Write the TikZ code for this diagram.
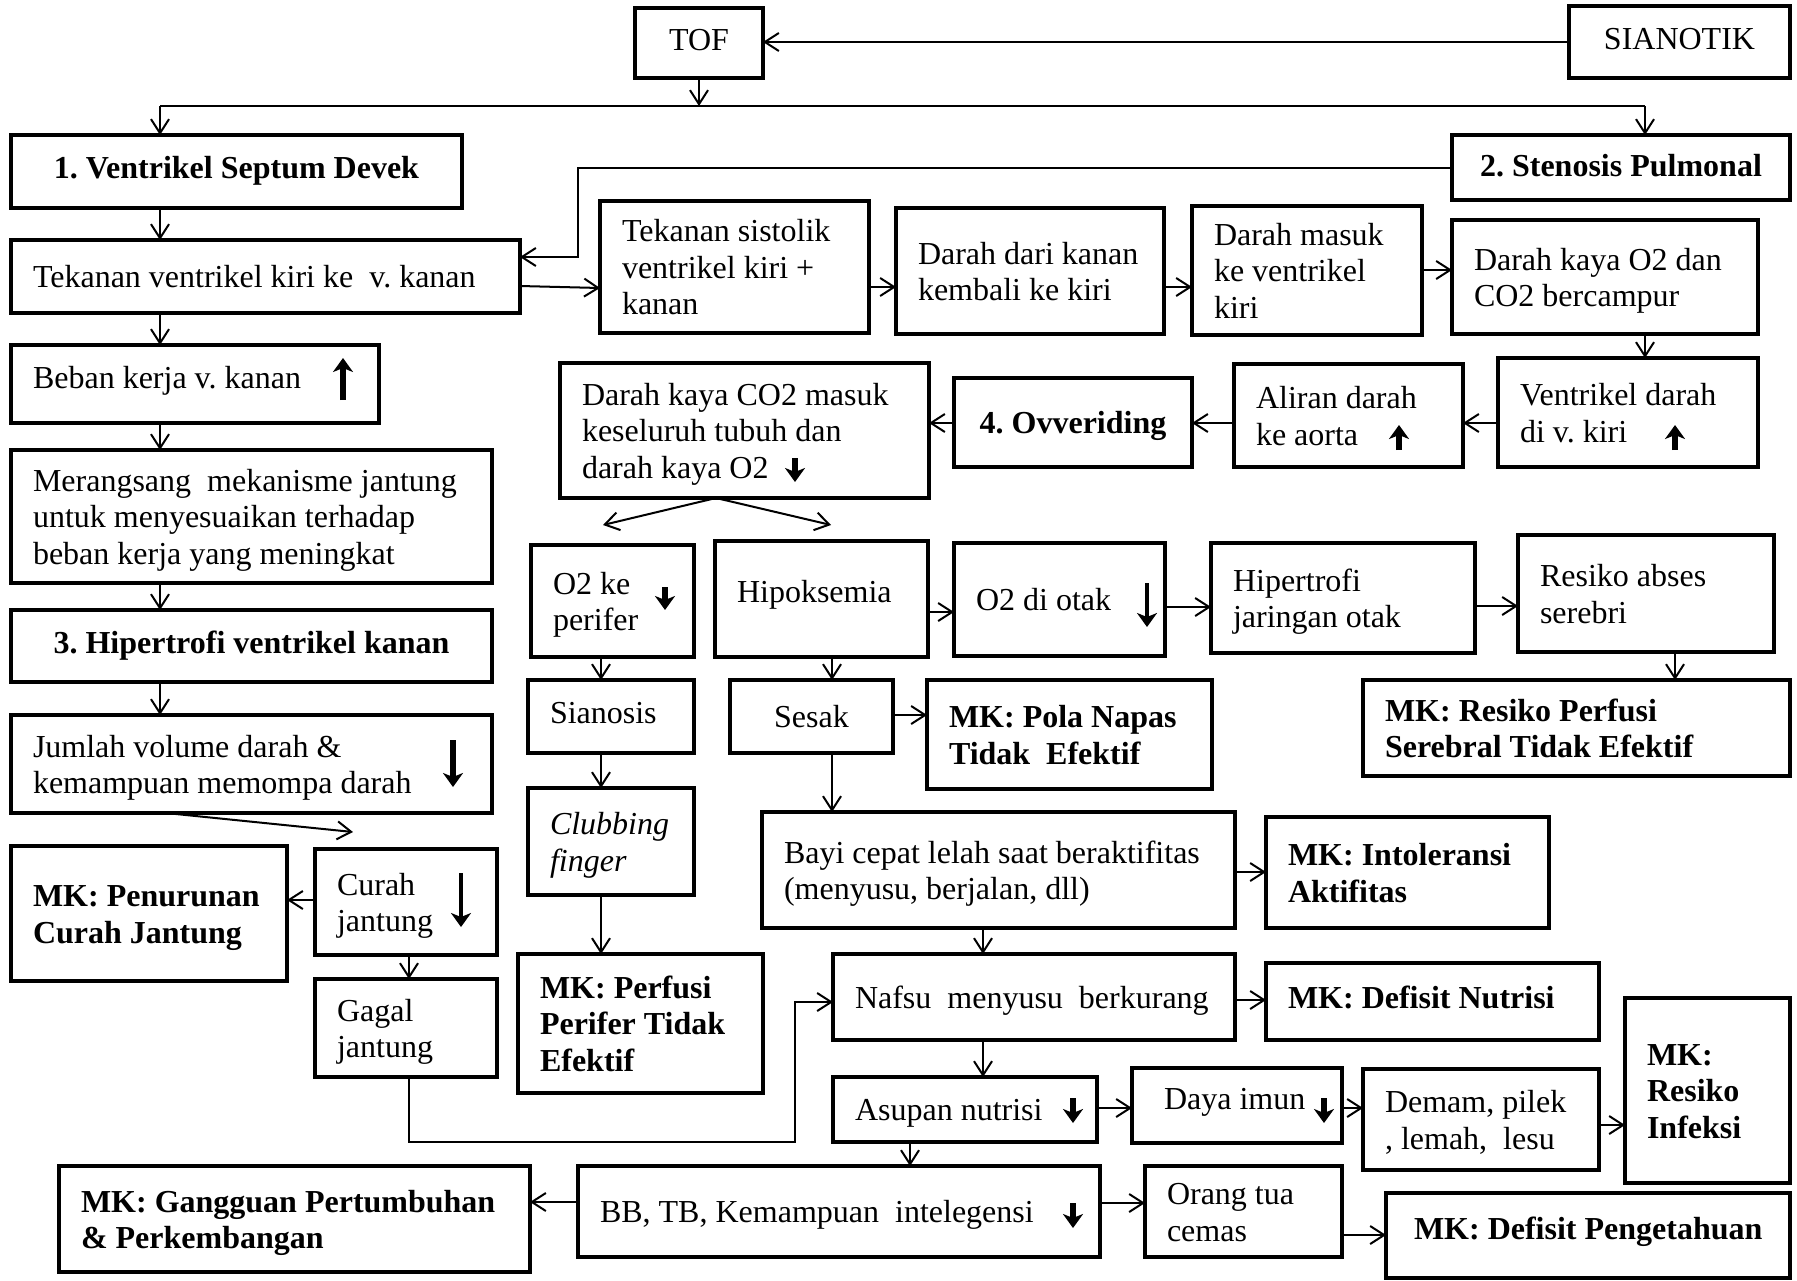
\documentclass[tikz,border=0pt]{standalone}
\usepackage{fontspec}
\setmainfont{Liberation Serif}
\usetikzlibrary{arrows.meta,calc}
\frenchspacing
\tikzset{
 fn/.style={font=\fontsize{16pt}{18.3pt}\selectfont\frenchspacing},
 fb/.style={font=\fontsize{16pt}{18.3pt}\selectfont\bfseries\frenchspacing},
 fi/.style={font=\fontsize{16pt}{18.3pt}\selectfont\itshape\frenchspacing},
 tsh/.store in=\tsh,
 bx/.style={draw, line width=1.8pt, inner xsep=11pt, inner ysep=2pt, outer sep=0pt, fn, tsh=-2pt},
 arr/.style={line width=1pt, -{Straight Barb[length=7pt,width=9pt]}},
 ln/.style={line width=1pt},
 tk/.style={line width=2.6pt, -{Stealth[length=7pt,width=10pt,inset=2pt]}},
}
% left-aligned box: [opts]{x1}{y1}{x2}{y2}{name}{text}
\newcommand\Bx[7][]{%
 \pgfmathsetmacro\bxw{(#4-#2)*0.5}%
 \pgfmathsetmacro\bxh{(#5-#3)*0.5}%
 \pgfmathsetmacro\bxtw{(#4-#2)*0.5-22}%
 \node[bx, minimum width=\bxw pt, minimum height=\bxh pt, #1] (#6) at ({(#2+#4)/2},{(#3+#5)/2})
   {\raisebox{\tsh}[\height][\depth]{\makebox[\bxtw pt][l]{\begin{tabular}{@{}l@{}}#7\end{tabular}}}};}
% centred box
\newcommand\Bc[7][]{%
 \pgfmathsetmacro\bxw{(#4-#2)*0.5}%
 \pgfmathsetmacro\bxh{(#5-#3)*0.5}%
 \pgfmathsetmacro\bxtw{(#4-#2)*0.5-22}%
 \node[bx, minimum width=\bxw pt, minimum height=\bxh pt, #1] (#6) at ({(#2+#4)/2},{(#3+#5)/2})
   {\raisebox{\tsh}[\height][\depth]{\makebox[\bxtw pt][c]{\begin{tabular}{@{}c@{}}#7\end{tabular}}}};}
\begin{document}
\begin{tikzpicture}[x=0.5pt,y=-0.5pt]
\useasboundingbox (0,0) rectangle (1797,1280);
% boxes
\Bc[tsh=0pt]{635}{8}{763}{78}{tof}{TOF}
\Bc[tsh=0pt]{1569}{6}{1790}{78}{sia}{SIANOTIK}
\Bc[fb,tsh=0pt]{11}{135}{462}{208}{vsd}{1. Ventrikel Septum Devek}
\Bc[fb,tsh=-1pt]{1452}{135}{1790}{200}{sp}{2. Stenosis Pulmonal}
\Bx{11}{240}{520}{313}{tv}{Tekanan ventrikel kiri ke\ \ v. kanan}
\Bx{600}{201}{869}{333}{ts}{Tekanan sistolik\\ventrikel kiri +\\kanan}
\Bx{896}{208}{1164}{334}{ddk}{Darah dari kanan\\kembali ke kiri}
\Bx{1192}{206}{1422}{335}{dm}{Darah masuk\\ke ventrikel\\kiri}
\Bx{1452}{220}{1758}{334}{dko}{Darah kaya O2 dan\\CO2 bercampur}
\Bx[tsh=1.5pt]{11}{345}{379}{423}{bk}{Beban kerja v. kanan}
\Bx{560}{363}{929}{498}{dkc}{Darah kaya CO2 masuk\\keseluruh tubuh dan\\darah kaya O2}
\Bc[fb]{954}{378}{1192}{467}{ov}{4. Ovveriding}
\Bx{1234}{364}{1463}{467}{ad}{Aliran darah\\ke aorta}
\Bx{1498}{358}{1758}{467}{vd}{Ventrikel darah\\di v. kiri}
\Bx{11}{450}{492}{583}{mr}{Merangsang\ \ mekanisme jantung\\untuk menyesuaikan terhadap\\beban kerja yang meningkat}
\Bc[fb,tsh=0pt]{11}{610}{492}{682}{hv}{3. Hipertrofi ventrikel kanan}
\Bx{531}{545}{694}{657}{op}{O2 ke\\perifer}
\Bx[tsh=2pt]{715}{541}{928}{657}{hp}{Hipoksemia}
\Bx{954}{543}{1165}{656}{oo}{O2 di otak}
\Bx{1211}{543}{1475}{653}{hj}{Hipertrofi\\jaringan otak}
\Bx{1518}{535}{1774}{652}{ra}{Resiko abses\\serebri}
\Bx{11}{715}{492}{813}{jv}{Jumlah volume darah \&\\kemampuan memompa darah}
\Bx[tsh=0pt]{528}{680}{694}{753}{si}{Sianosis}
\Bc{730}{680}{893}{753}{se}{Sesak}
\Bx[fb]{927}{680}{1212}{789}{mkpn}{MK: Pola Napas\\Tidak\ \ Efektif}
\Bx[fb]{1363}{680}{1790}{776}{mkrp}{MK: Resiko Perfusi\\Serebral Tidak Efektif}
\Bx[fi]{528}{788}{694}{895}{cf}{Clubbing\\finger}
\Bx{762}{812}{1235}{928}{by}{Bayi cepat lelah saat beraktifitas\\(menyusu, berjalan, dll)}
\Bx[fb]{1266}{817}{1549}{928}{mkia}{MK: Intoleransi\\Aktifitas}
\Bx[fb]{11}{846}{287}{981}{mkpc}{MK: Penurunan\\Curah Jantung}
\Bx{315}{849}{497}{955}{cj}{Curah\\jantung}
\Bx{315}{979}{497}{1077}{gj}{Gagal\\jantung}
\Bx[fb]{518}{954}{763}{1093}{mkpp}{MK: Perfusi\\Perifer Tidak\\Efektif}
\Bx{833}{954}{1235}{1040}{nm}{Nafsu\ \ menyusu\ \ berkurang}
\Bx[fb,tsh=0pt]{1266}{963}{1599}{1040}{mkdn}{MK: Defisit Nutrisi}
\Bx{833}{1077}{1097}{1142}{an}{Asupan nutrisi}
\Bx[tsh=1.5pt]{1132}{1068}{1342}{1143}{di}{\hspace*{5pt}Daya imun}
\Bx{1363}{1069}{1599}{1170}{dp}{Demam, pilek\\, lemah,\ \ lesu}
\Bx[fb]{1625}{998}{1790}{1183}{mkri}{MK:\\Resiko\\Infeksi}
\Bx[fb]{59}{1166}{530}{1272}{mkgp}{MK: Gangguan Pertumbuhan\\\& Perkembangan}
\Bx{578}{1166}{1100}{1257}{bb}{BB, TB, Kemampuan\ \ intelegensi}
\Bx{1145}{1166}{1342}{1257}{ot}{Orang tua\\cemas}
\Bx[fb,tsh=1.5pt]{1386}{1193}{1790}{1278}{mkdp}{\hspace*{3pt}MK: Defisit Pengetahuan}
% connectors
\coordinate (hL) at (160,106);
\coordinate (hR) at (1645,106);
\coordinate (hM) at (699,106);
\draw[arr] (sia.west) -- (sia.west -| tof.east);
\draw[arr] (tof.south) -- (hM);
\draw[ln] (hL) -- (hR);
\draw[arr] (hL) -- (hL |- vsd.north);
\draw[arr] (hR) -- (hR |- sp.north);
\draw[arr] (vsd.south -| hL) -- (tv.north -| hL);
\draw[arr] (tv.south -| hL) -- (bk.north -| hL);
\draw[arr] (bk.south -| hL) -- (mr.north -| hL);
\draw[arr] (mr.south -| hL) -- (hv.north -| hL);
\draw[arr] (hv.south -| hL) -- (jv.north -| hL);
\coordinate (k1) at (578,257);
\draw[arr] (sp.west) -| (k1) -- (k1 -| tv.east);
\draw[arr] (tv.east |- 0,286) -- (ts.west |- 0,288);
\draw[arr] (ts.east |- 0,287) -- (ddk.west |- 0,287);
\draw[arr] (ddk.east |- 0,287) -- (dm.west |- 0,287);
\draw[arr] (dm.east |- 0,270) -- (dko.west |- 0,270);
\draw[arr] (dko.south -| 1645,0) -- (vd.north -| 1645,0);
\draw[arr] (vd.west |- 0,423) -- (ad.east |- 0,423);
\draw[arr] (ad.west |- 0,423) -- (ov.east |- 0,423);
\draw[arr] (ov.west |- 0,423) -- (dkc.east |- 0,423);
\coordinate (tl) at (603,525);
\coordinate (tr) at (831,525);
\draw[arr] (dkc.south -| 716,0) -- (tl);
\draw[arr] (dkc.south -| 716,0) -- (tr);
\draw[arr] (op.south -| 601,0) -- (si.north -| 601,0);
\draw[arr] (hp.south -| 832,0) -- (se.north -| 832,0);
\draw[arr] (hp.east |- 0,612) -- (oo.west |- 0,612);
\draw[arr] (oo.east |- 0,607) -- (hj.west |- 0,607);
\draw[arr] (hj.east |- 0,606) -- (ra.west |- 0,606);
\draw[arr] (ra.south -| 1675,0) -- (mkrp.north -| 1675,0);
\draw[arr] (si.south -| 601,0) -- (cf.north -| 601,0);
\draw[arr] (se.east |- 0,715) -- (mkpn.west |- 0,715);
\draw[arr] (se.south -| 832,0) -- (by.north -| 832,0);
\draw[arr] (cf.south -| 601,0) -- (mkpp.north -| 601,0);
\coordinate (jx) at (353,832);
\draw[arr] (jv.south -| 166,0) -- (jx);
\draw[arr] (cj.west |- 0,900) -- (mkpc.east |- 0,900);
\draw[arr] (cj.south -| 409,0) -- (gj.north -| 409,0);
\draw[arr] (gj.south -| 409,0) |- (795,1142) |- (nm.west |- 0,1002);
\draw[arr] (by.east |- 0,872) -- (mkia.west |- 0,872);
\draw[arr] (by.south -| 983,0) -- (nm.north -| 983,0);
\draw[arr] (nm.east |- 0,1000) -- (mkdn.west |- 0,1000);
\draw[arr] (nm.south -| 983,0) -- (an.north -| 983,0);
\draw[arr] (an.east |- 0,1108) -- (di.west |- 0,1108);
\draw[arr] (di.east |- 0,1108) -- (dp.west |- 0,1108);
\draw[arr] (dp.east |- 0,1125) -- (mkri.west |- 0,1125);
\draw[arr] (an.south -| 910,0) -- (bb.north -| 910,0);
\draw[arr] (bb.west |- 0,1202) -- (mkgp.east |- 0,1202);
\draw[arr] (bb.east |- 0,1203) -- (ot.west |- 0,1203);
\draw[arr] (ot.east |- 0,1235) -- (mkdp.west |- 0,1235);
% thick up/down marks
\draw[tk] (343,400) -- (343,358);
\draw[tk] (795,458) -- (795,482);
\draw[tk] (1399,450) -- (1399,425);
\draw[tk] (1675,450) -- (1675,425);
\draw[tk] (665,587) -- (665,610);
\draw[tk, line width=2pt] (1147,583) -- (1147,627);
\draw[tk] (453,740) -- (453,787);
\draw[tk, line width=2.2pt] (461,873) -- (461,927);
\draw[tk] (1073,1098) -- (1073,1123);
\draw[tk] (1324,1098) -- (1324,1123);
\draw[tk] (1073,1203) -- (1073,1228);
\end{tikzpicture}
\end{document}
